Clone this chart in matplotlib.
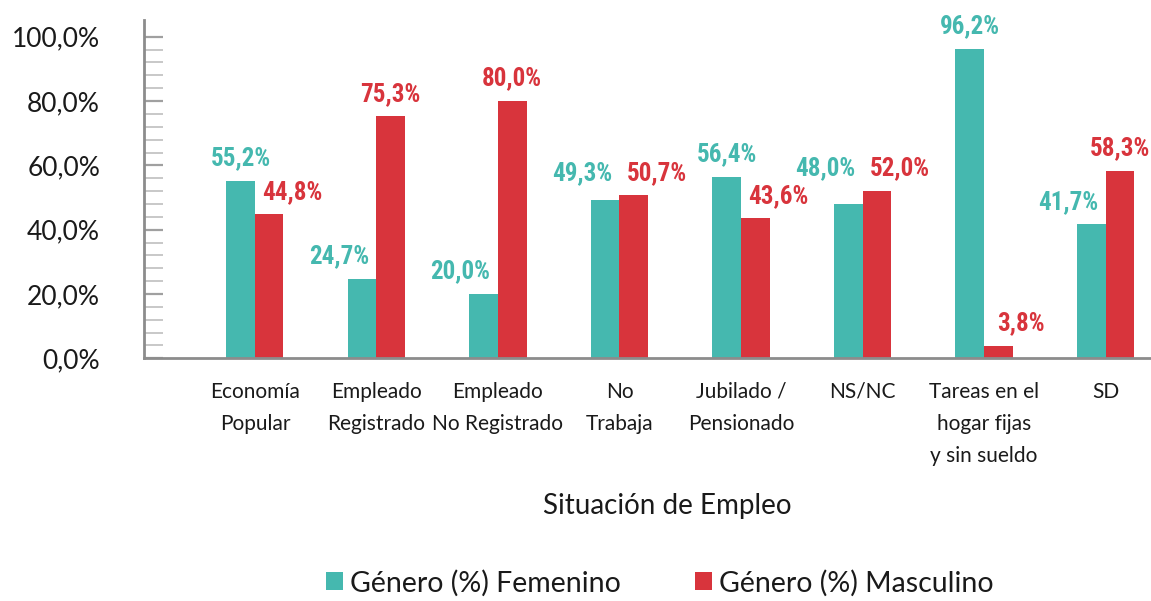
import matplotlib
matplotlib.use("Agg")
import numpy as np
from matplotlib import pyplot as plt
from matplotlib.patches import Patch

categorias = [
    "Economía\nPopular",
    "Empleado\nRegistrado",
    "Empleado\nNo Registrado",
    "No\nTrabaja",
    "Jubilado /\nPensionado",
    "NS/NC",
    "Tareas en el\nhogar fijas\ny sin sueldo",
    "SD",
]
femenino = [55.2, 24.7, 20.0, 49.3, 56.4, 48.0, 96.2, 41.7]
masculino = [44.8, 75.3, 80.0, 50.7, 43.6, 52.0, 3.8, 58.3]
series_names = ["Género (%) Femenino", "Género (%) Masculino"]

TEAL = "#45b8af"
RED = "#d8343c"
TEXT = "#1a1a1a"

plt.rcParams["font.family"] = ["Lato", "DejaVu Sans"]
label_font = ["Liberation Sans Narrow", "Roboto Condensed", "DejaVu Sans"]

fig = plt.figure(figsize=(11.51, 6.01), dpi=100)
ax = fig.add_axes([0.1255, 0.4038, 0.8745, 0.5629])

x = np.arange(len(categorias))
w = 0.235
ax.bar(x - w / 2, femenino, w, color=TEAL, linewidth=0)
ax.bar(x + w / 2, masculino, w, color=RED, linewidth=0)


def fmt(v):
    return f"{v:.1f}%".replace(".", ",")


# labels sit above their bar; a label next to a taller bar moves outward,
# and when both bars are about equal both move out at the taller height
shift = 0.19
for i, (f, m) in enumerate(zip(femenino, masculino)):
    close = abs(f - m) < 8
    fx, fy = x[i] - w / 2, f
    mx, my = x[i] + w / 2, m
    if close or f < m:
        fx -= shift
    if close or m < f:
        mx += shift
    if close:
        fy = my = max(f, m)
    ax.annotate(fmt(f), (fx, fy), xytext=(0, 7.5), textcoords="offset points",
                ha="center", va="bottom", color=TEAL, fontsize=18,
                fontweight="bold", family=label_font)
    ax.annotate(fmt(m), (mx, my), xytext=(0, 7.5), textcoords="offset points",
                ha="center", va="bottom", color=RED, fontsize=18,
                fontweight="bold", family=label_font)

ax.set_xlim(-0.909, 7.374)
ax.set_ylim(0, 105.2)

ax.set_yticks(np.arange(0, 101, 20))
ax.set_yticks(np.arange(0, 101, 4), minor=True)
ax.set_yticklabels([fmt(v) for v in np.arange(0, 101, 20)])
ax.tick_params(axis="y", which="major", direction="in", length=14, width=1.6,
               color="#a0a0a0", pad=32, labelsize=19, labelcolor=TEXT)
ax.tick_params(axis="y", which="minor", direction="in", length=14, width=1.4,
               color="#c8c8c8")

ax.set_xticks(x)
ax.set_xticklabels(categorias)
ax.tick_params(axis="x", length=0, pad=17, labelsize=15, labelcolor=TEXT)
for lbl in ax.get_xticklabels():
    lbl.set_linespacing(1.75)

for side in ("top", "right"):
    ax.spines[side].set_visible(False)
for side in ("left", "bottom"):
    ax.spines[side].set_color("#8c8c8c")
    ax.spines[side].set_linewidth(2)

fig.text(0.5795, 1 - 514 / 601, "Situación de Empleo", ha="center",
         va="baseline", fontsize=20, color=TEXT)

handles = [Patch(facecolor=TEAL, edgecolor="none"),
           Patch(facecolor=RED, edgecolor="none")]
fig.legend(handles, series_names, loc="center", ncol=2,
           bbox_to_anchor=(0.573, 1 - 583 / 601), frameon=False,
           fontsize=20.5, handlelength=0.6, handleheight=0.6,
           handletextpad=0.25, columnspacing=2.6, labelcolor=TEXT,
           borderpad=0)

fig.savefig("out.png", dpi=100)
